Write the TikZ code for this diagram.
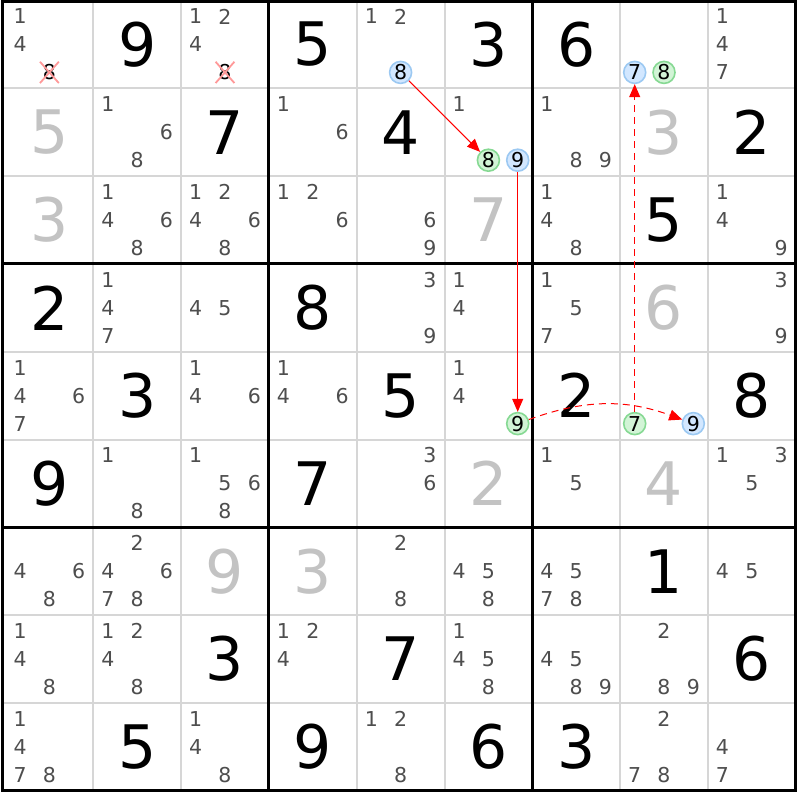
\documentclass[tikz,border=0pt]{standalone}
\usepackage{fontspec}
\setmainfont{DejaVu Sans}
\usetikzlibrary{arrows.meta,shapes.misc}
\definecolor{candgray}{HTML}{4E4E4E}
\definecolor{solvedgray}{HTML}{C3C3C3}
\definecolor{gridgray}{HTML}{D6D6D6}
\definecolor{hlblue}{HTML}{D2E7FF}
\definecolor{hlblueline}{HTML}{9CC9F2}
\definecolor{hlgreen}{HTML}{D2F4D6}
\definecolor{hlgreenline}{HTML}{86D993}
\tikzset{
	cand/.style={text=candgray, font=\fontsize{20.5pt}{20.5pt}\selectfont, inner sep=0pt},
	bluecand/.style={cand, text=black, circle, draw=hlblueline, fill=hlblue, line width=1.6pt, minimum size=22pt},
	greencand/.style={bluecand, draw=hlgreenline, fill=hlgreen},
	elim/.style={cand, text=black, cross out, draw=red!40, line width=1.8pt, inner sep=2pt},
	given/.style={font=\fontsize{60pt}{60pt}\selectfont, inner sep=0pt},
	solved/.style={given, text=solvedgray},
	link/.style={red, line width=1pt, -{Triangle[length=13pt,width=11pt]}},
	weaklink/.style={link, dash pattern=on 7pt off 5pt}
}
\newcommand\cand[4][cand]{%
	\pgfmathsetmacro\candx{5.5+87.8*(#3-0.5)+29.3*(mod(#4-1,3)-1)}%
	\pgfmathsetmacro\candy{0.5+87.8*(#2-0.5)+28*(floor((#4-1)/3)-1)}%
	\node[#1] (c#2#3#4) at (\candx,\candy) {#4};}
\newcommand\cands[3]{\foreach \d in {#3}{\cand{#1}{#2}{\d}}}
\begin{document}
\begin{tikzpicture}[x=1pt,y=-1pt]
		\useasboundingbox[fill=white] (0,0) rectangle (800,800);
		\foreach \i in {1,2,4,5,7,8} {
			\draw[gridgray, line width=2pt] ({5.5+87.8*\i},1.5) -- ({5.5+87.8*\i},790.5);
			\draw[gridgray, line width=2pt] (2.5,{0.5+87.8*\i}) -- (795.5,{0.5+87.8*\i});
		}
		\foreach \i in {3,6} {
			\draw[line width=3pt] ({5.5+87.8*\i},1.5) -- ({5.5+87.8*\i},790.5);
			\draw[line width=3pt] (2.5,{0.5+87.8*\i}) -- (795.5,{0.5+87.8*\i});
		}
		\draw[line width=3pt] (2.5,1.5) rectangle (795.5,790.5);

		\foreach \r/\c/\v in {1/2/9,1/4/5,1/6/3,1/7/6,2/3/7,2/5/4,2/9/2,3/8/5,4/1/2,4/4/8,5/2/3,5/5/5,5/7/2,5/9/8,6/1/9,6/4/7,7/8/1,8/3/3,8/5/7,8/9/6,9/2/5,9/4/9,9/6/6,9/7/3}
			\node[given] (g\r\c) at ({5.5+87.8*(\c-0.5)},{0.5+87.8*(\r-0.5)}) {\v};
		\foreach \r/\c/\v in {2/1/5,2/8/3,3/1/3,3/6/7,4/8/6,6/6/2,6/8/4,7/3/9,7/4/3}
			\node[solved] (s\r\c) at ({5.5+87.8*(\c-0.5)},{0.5+87.8*(\r-0.5)}) {\v};

		\cands{1}{1}{1,4} \cands{1}{3}{1,2,4} \cands{1}{5}{1,2} \cands{1}{9}{1,4,7}
		\cands{2}{2}{1,6,8} \cands{2}{4}{1,6} \cands{2}{6}{1} \cands{2}{7}{1,8,9}
		\cands{3}{2}{1,4,6,8} \cands{3}{3}{1,2,4,6,8} \cands{3}{4}{1,2,6} \cands{3}{5}{6,9} \cands{3}{7}{1,4,8} \cands{3}{9}{1,4,9}
		\cands{4}{2}{1,4,7} \cands{4}{3}{4,5} \cands{4}{5}{3,9} \cands{4}{6}{1,4} \cands{4}{7}{1,5,7} \cands{4}{9}{3,9}
		\cands{5}{1}{1,4,6,7} \cands{5}{3}{1,4,6} \cands{5}{4}{1,4,6} \cands{5}{6}{1,4}
		\cands{6}{2}{1,8} \cands{6}{3}{1,5,6,8} \cands{6}{5}{3,6} \cands{6}{7}{1,5} \cands{6}{9}{1,3,5}
		\cands{7}{1}{4,6,8} \cands{7}{2}{2,4,6,7,8} \cands{7}{5}{2,8} \cands{7}{6}{4,5,8} \cands{7}{7}{4,5,7,8} \cands{7}{9}{4,5}
		\cands{8}{1}{1,4,8} \cands{8}{2}{1,2,4,8} \cands{8}{4}{1,2,4} \cands{8}{6}{1,4,5,8} \cands{8}{7}{4,5,8,9} \cands{8}{8}{2,8,9}
		\cands{9}{1}{1,4,7,8} \cands{9}{3}{1,4,8} \cands{9}{5}{1,2,8} \cands{9}{8}{2,7,8} \cands{9}{9}{4,7}

		\cand[elim]{1}{1}{8} \cand[elim]{1}{3}{8}
		\cand[bluecand]{1}{5}{8} \cand[bluecand]{1}{8}{7} \cand[greencand]{1}{8}{8}
		\cand[greencand]{2}{6}{8} \cand[bluecand]{2}{6}{9}
		\cand[greencand]{5}{6}{9} \cand[greencand]{5}{8}{7} \cand[bluecand]{5}{8}{9}

		\draw[link] (c158) -- (c268);
		\draw[link] (c269) -- (c569);
		\draw[weaklink] (c569) to[bend left=20] (c589);
		\draw[weaklink] (c587) -- (c187);
\end{tikzpicture}
\end{document}
